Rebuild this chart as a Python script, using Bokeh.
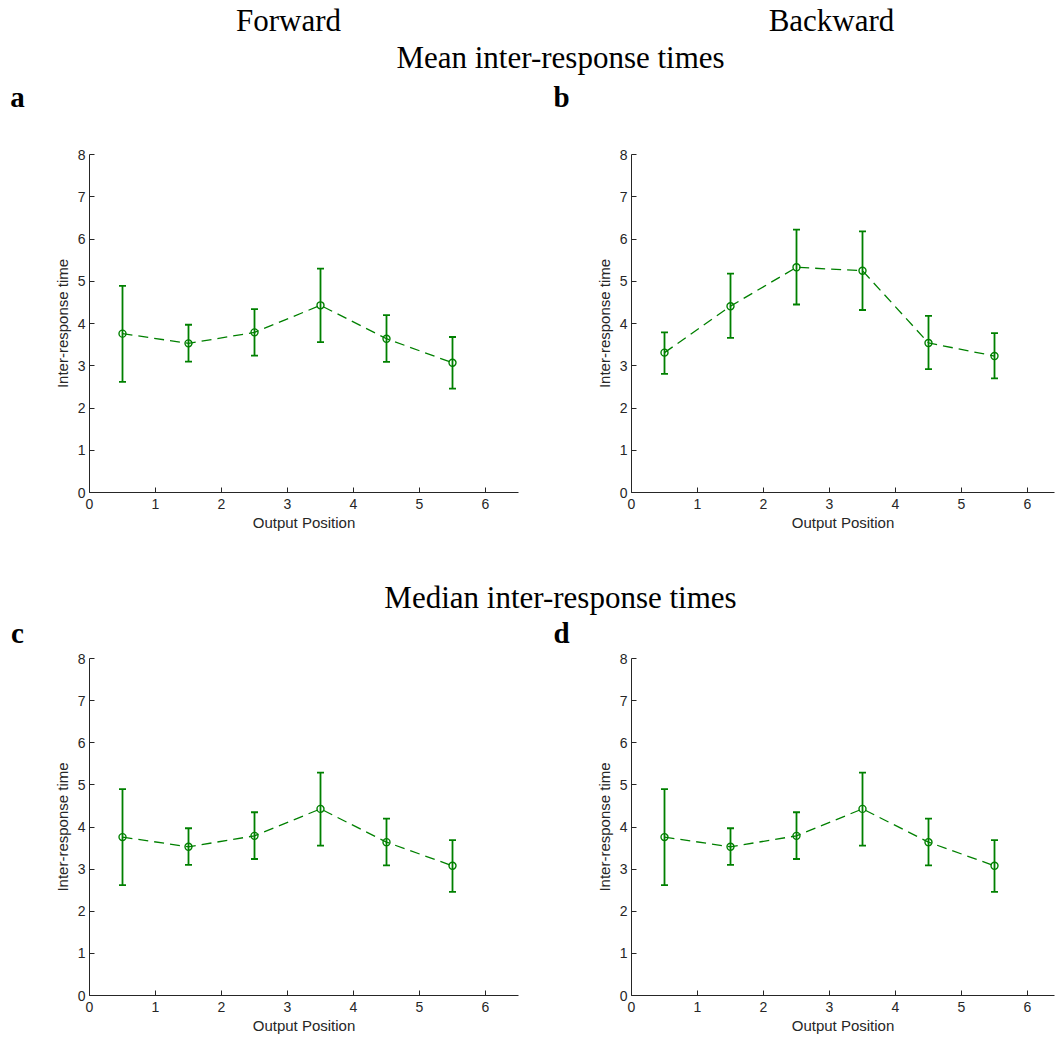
from bokeh.plotting import figure
from bokeh.layouts import column, row
from bokeh.models import (Range1d, FixedTicker, ColumnDataSource, Whisker, TeeHead,
                          GlobalInlineStyleSheet)
from bokeh.core.properties import value
from bokeh.embed import file_html
from bokeh.resources import INLINE

# ---------------- data ----------------
positions = [0.5, 1.5, 2.5, 3.5, 4.5, 5.5]

fwd_mean = [3.76, 3.53, 3.79, 4.43, 3.64, 3.07]
fwd_mean_upper = [4.89, 3.97, 4.34, 5.30, 4.20, 3.68]
fwd_mean_lower = [2.62, 3.10, 3.24, 3.56, 3.09, 2.46]

bwd_mean = [3.31, 4.41, 5.33, 5.25, 3.54, 3.23]
bwd_mean_upper = [3.79, 5.18, 6.22, 6.18, 4.18, 3.77]
bwd_mean_lower = [2.81, 3.66, 4.45, 4.32, 2.92, 2.70]

fwd_median = [3.76, 3.53, 3.79, 4.43, 3.64, 3.08]
fwd_median_upper = [4.90, 3.97, 4.35, 5.29, 4.20, 3.69]
fwd_median_lower = [2.62, 3.10, 3.24, 3.56, 3.09, 2.46]

bwd_median = [3.76, 3.53, 3.79, 4.43, 3.64, 3.08]
bwd_median_upper = [4.90, 3.97, 4.35, 5.29, 4.20, 3.69]
bwd_median_lower = [2.62, 3.10, 3.24, 3.56, 3.09, 2.46]

x_ticks = [0, 1, 2, 3, 4, 5, 6]
y_ticks = [0, 1, 2, 3, 4, 5, 6, 7, 8]

col_titles = ["Forward", "Backward"]
row_titles = ["Mean inter-response times", "Median inter-response times"]
panel_letters = ["a", "b", "c", "d"]
x_label = "Output Position"
y_label = "Inter-response time"

# ---------------- style ----------------
GREEN = "#008000"
AX = "#262626"
SANS = "Liberation Sans"
SERIF = "Liberation Serif"
TOTAL_W = 1055
PX_PER_UNIT = 66


def text_strip(height, titles, letters):
    p = figure(width=TOTAL_W, height=height, output_backend="svg", toolbar_location=None,
               x_range=Range1d(0, TOTAL_W), y_range=Range1d(height, 0),
               x_axis_type=None, y_axis_type=None, min_border=0)
    p.outline_line_color = None
    p.xgrid.visible = False
    p.ygrid.visible = False
    for (x, y, t) in titles:
        p.text(x=[x], y=[y], text=[t], text_font=value(SERIF), text_font_size="31px",
               text_color="black", text_align="center", text_baseline="middle")
    for (x, y, t) in letters:
        p.text(x=[x], y=[y], text=[t], text_font=value(SERIF), text_font_size="29px",
               text_font_style="bold", text_color="black",
               text_align="center", text_baseline="middle")
    return p


def panel(xs, ys, up, lo, left, right, bottom, frame_w, height):
    xend = frame_w / PX_PER_UNIT
    p = figure(width=left + frame_w + right, height=height, output_backend="svg",
               toolbar_location=None, x_range=Range1d(0, xend), y_range=Range1d(0, 8),
               min_border_left=left, min_border_right=right, min_border_top=8,
               min_border_bottom=bottom)
    p.outline_line_color = None
    p.xgrid.visible = False
    p.ygrid.visible = False
    src = ColumnDataSource(dict(x=xs, y=ys, upper=up, lower=lo))
    p.line("x", "y", source=src, line_color=GREEN, line_width=1.3, line_dash="10 6")
    w = Whisker(base="x", upper="upper", lower="lower", source=src,
                line_color=GREEN, line_width=1.8,
                upper_head=TeeHead(size=7, line_color=GREEN, line_width=1.8),
                lower_head=TeeHead(size=7, line_color=GREEN, line_width=1.8))
    p.add_layout(w)
    p.scatter("x", "y", source=src, marker="circle", size=7, fill_color=None,
              line_color=GREEN, line_width=1.4)
    p.xaxis.ticker = FixedTicker(ticks=x_ticks)
    p.yaxis.ticker = FixedTicker(ticks=y_ticks)
    p.xaxis.axis_label = x_label
    p.yaxis.axis_label = y_label
    for ax in (p.xaxis[0], p.yaxis[0]):
        ax.axis_line_color = AX
        ax.major_tick_line_color = AX
        ax.major_tick_in = 5
        ax.major_tick_out = 0
        ax.minor_tick_line_color = None
        ax.major_label_text_font = SANS
        ax.major_label_text_font_size = "14px"
        ax.major_label_text_color = AX
        ax.axis_label_text_font = SANS
        ax.axis_label_text_font_size = "15px"
        ax.axis_label_text_font_style = "normal"
        ax.axis_label_text_color = AX
    p.xaxis.major_label_standoff = 6
    p.xaxis.axis_label_standoff = 2
    p.yaxis.major_label_standoff = 4
    p.yaxis.axis_label_standoff = 4
    return p


header = text_strip(146,
                    [(288, 20, col_titles[0]), (831, 20, col_titles[1]), (560, 57, row_titles[0])],
                    [(17, 96, panel_letters[0]), (561, 96, panel_letters[1])])
mid = text_strip(114,
                 [(560, 61, row_titles[1])],
                 [(17, 96, panel_letters[2]), (561, 96, panel_letters[3])])

pa = panel(positions, fwd_mean, fwd_mean_upper, fwd_mean_lower, 89, 20, 44, 429, 390)
pb = panel(positions, bwd_mean, bwd_mean_upper, bwd_mean_lower, 93, 1, 44, 423, 390)
pc = panel(positions, fwd_median, fwd_median_upper, fwd_median_lower, 89, 20, 43, 429, 388)
pd = panel(positions, bwd_median, bwd_median_upper, bwd_median_lower, 93, 1, 43, 423, 388)

layout = column(header, row(pa, pb), mid, row(pc, pd),
                stylesheets=[GlobalInlineStyleSheet(css="html, body { overflow: hidden; }")])

open("out.html", "w").write(file_html(layout, INLINE))
